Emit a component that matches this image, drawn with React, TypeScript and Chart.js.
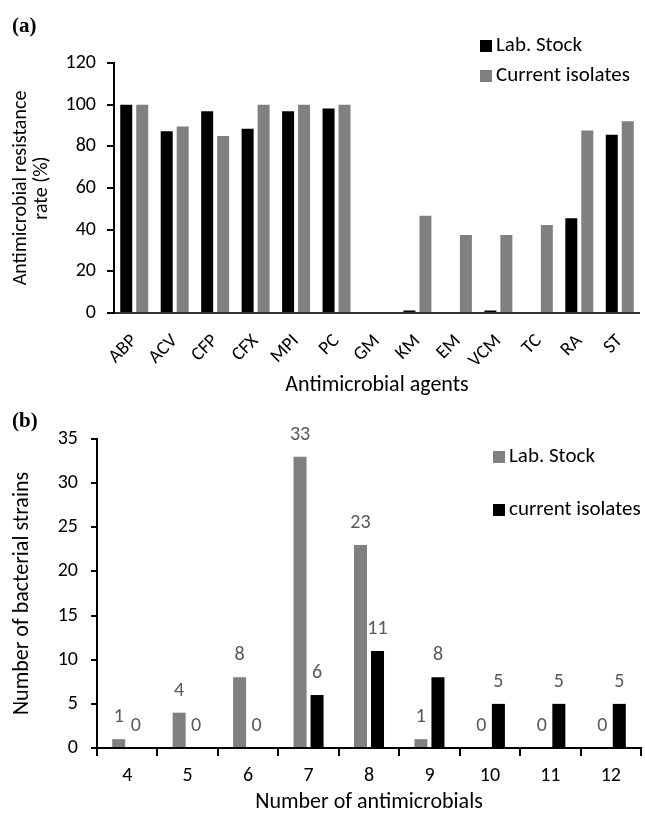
import React, { useEffect, useRef } from "react";
import { Chart, registerables } from "chart.js";

Chart.register(...registerables);

// ---------- Data (a) ----------
const agents = ["ABP", "ACV", "CFP", "CFX", "MPI", "PC", "GM", "KM", "EM", "VCM", "TC", "RA", "ST"];
const labStockRate = [100, 87.2, 96.8, 88.5, 96.8, 98.2, 0, 1.2, 0, 1.2, 0, 45.5, 85.6];
const currentRate = [100, 89.5, 85, 100, 100, 100, 0, 46.7, 37.5, 37.5, 42.3, 87.6, 92];

// ---------- Data (b) ----------
const numAntimicrobials = ["4", "5", "6", "7", "8", "9", "10", "11", "12"];
const labStockCount = [1, 4, 8, 33, 23, 1, 0, 0, 0];
const currentCount = [0, 0, 0, 6, 11, 8, 5, 5, 5];

const FONT = "Carlito, Lato, sans-serif";
const BLACK = "#000000";
const GRAY = "#808080";

function legendPlugin(x: number, ys: number[], box: number, size: number) {
  return {
    id: "manualLegend",
    afterDraw(chart: any) {
      const ctx = chart.ctx;
      chart.data.datasets.forEach((ds: any, i: number) => {
        ctx.save();
        ctx.fillStyle = ds.backgroundColor;
        ctx.fillRect(x, ys[i] - box / 2, box, box);
        ctx.fillStyle = "#000";
        ctx.font = `${size}px ${FONT}`;
        ctx.textBaseline = "middle";
        ctx.textAlign = "left";
        ctx.fillText(ds.label, x + box + 4, ys[i]);
        ctx.restore();
      });
    },
  };
}

const valueLabels = {
  id: "valueLabels",
  afterDatasetsDraw(chart: any) {
    const ctx = chart.ctx;
    ctx.save();
    ctx.font = `20px ${FONT}`;
    ctx.fillStyle = "#595959";
    ctx.textAlign = "center";
    ctx.textBaseline = "middle";
    chart.data.datasets.forEach((ds: any, di: number) => {
      const meta = chart.getDatasetMeta(di);
      meta.data.forEach((el: any, i: number) => {
        ctx.fillText(String(ds.data[i]), el.x, el.y - 22);
      });
    });
    ctx.restore();
  },
};

function ChartA() {
  const ref = useRef<HTMLCanvasElement>(null);
  useEffect(() => {
    const chart = new Chart(ref.current!, {
      type: "bar",
      data: {
        labels: agents,
        datasets: [
          { label: "Lab. Stock", data: labStockRate, backgroundColor: BLACK, categoryPercentage: 0.79, barPercentage: 0.75 },
          { label: "Current isolates", data: currentRate, backgroundColor: GRAY, categoryPercentage: 0.79, barPercentage: 0.75 },
        ],
      },
      options: {
        responsive: false,
        animation: false,
        layout: { padding: { top: 63, right: 3, left: 0, bottom: 0 } },
        plugins: { legend: { display: false }, tooltip: { enabled: false } },
        scales: {
          x: {
            grid: { display: false },
            border: { display: true, color: "#333", width: 2 },
            ticks: { color: "#000", font: { family: FONT, size: 19 }, minRotation: 45, maxRotation: 45, padding: 9, autoSkip: false },
            title: { display: true, text: "Antimicrobial agents", color: "#000", font: { family: FONT, size: 22 }, padding: { top: 0, bottom: 1 } },
            afterFit: (s: any) => { s.height = 87; },
          },
          y: {
            min: 0,
            max: 120,
            ticks: { stepSize: 20, color: "#000", font: { family: FONT, size: 20 }, padding: 11 },
            grid: { drawOnChartArea: false, drawTicks: true, tickLength: 7, color: "#000", lineWidth: 2 },
            border: { display: true, color: "#000", width: 2 },
            title: {
              display: true,
              text: ["Antimicrobial resistance", "rate (%)"],
              color: "#000",
              font: { family: FONT, size: 20, lineHeight: 1.05 },
              padding: { top: 10, bottom: 0 },
            },
            afterFit: (s: any) => { s.width = 114; },
          },
        },
      },
      plugins: [legendPlugin(480, [46, 76], 12, 21)],
    } as any);
    return () => chart.destroy();
  }, []);
  return <canvas ref={ref} width={645} height={400} style={{ position: "absolute", left: 0, top: 0 }} />;
}

function ChartB() {
  const ref = useRef<HTMLCanvasElement>(null);
  useEffect(() => {
    const chart = new Chart(ref.current!, {
      type: "bar",
      data: {
        labels: numAntimicrobials,
        datasets: [
          { label: "Lab. Stock", data: labStockCount, backgroundColor: GRAY, categoryPercentage: 0.563, barPercentage: 0.765 },
          { label: "current isolates", data: currentCount, backgroundColor: BLACK, categoryPercentage: 0.563, barPercentage: 0.765 },
        ],
      },
      options: {
        responsive: false,
        animation: false,
        layout: { padding: { top: 39, right: 4, left: 0, bottom: 0 } },
        plugins: { legend: { display: false }, tooltip: { enabled: false } },
        scales: {
          x: {
            grid: { offset: true, drawOnChartArea: false, drawTicks: true, tickLength: 8, color: "#000", lineWidth: 2 },
            border: { display: true, color: "#000", width: 2 },
            ticks: { color: "#000", font: { family: FONT, size: 20 }, padding: 8, maxRotation: 0 },
            title: { display: true, text: "Number of antimicrobials", color: "#000", font: { family: FONT, size: 22 }, padding: { top: 0, bottom: 4 } },
            afterFit: (s: any) => { s.height = 72; },
          },
          y: {
            min: 0,
            max: 35,
            ticks: { stepSize: 5, color: "#000", font: { family: FONT, size: 20 }, padding: 13 },
            grid: { drawOnChartArea: false, drawTicks: true, tickLength: 6, color: "#000", lineWidth: 2 },
            border: { display: true, color: "#000", width: 2 },
            title: {
              display: true,
              text: "Number of bacterial strains",
              color: "#000",
              font: { family: FONT, size: 22, lineHeight: 1.0 },
              padding: { top: 11, bottom: 0 },
            },
            afterFit: (s: any) => { s.width = 97; },
          },
        },
      },
      plugins: [valueLabels, legendPlugin(493, [57, 110], 12, 21)],
    } as any);
    return () => chart.destroy();
  }, []);
  return <canvas ref={ref} width={645} height={420} style={{ position: "absolute", left: 0, top: 400 }} />;
}

const panelLabel: React.CSSProperties = {
  position: "absolute",
  fontFamily: "'Liberation Serif', 'DejaVu Serif', serif",
  fontWeight: "bold",
  fontSize: 21,
  color: "#000",
  lineHeight: 1,
};

export default function App() {
  return (
    <div style={{ position: "absolute", left: 0, top: 0, width: 645, height: 820, background: "#fff" }}>
      <ChartA />
      <ChartB />
      <div style={{ ...panelLabel, left: 12, top: 15 }}>(a)</div>
      <div style={{ ...panelLabel, left: 12, top: 410 }}>(b)</div>
    </div>
  );
}
